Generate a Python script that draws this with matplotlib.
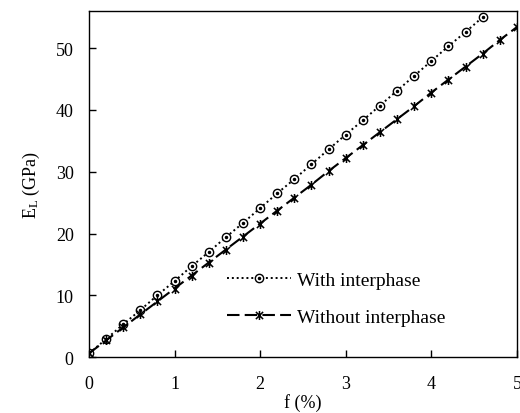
import matplotlib
matplotlib.use("Agg")
import matplotlib.pyplot as plt
from matplotlib.path import Path
from matplotlib.legend_handler import HandlerTuple

plt.rcParams['font.family'] = ['Liberation Serif', 'DejaVu Serif']
plt.rcParams['mathtext.fontset'] = 'custom'
plt.rcParams['mathtext.rm'] = 'Liberation Serif'
plt.rcParams['mathtext.it'] = 'Liberation Serif:italic'

# volume fraction (%) and longitudinal modulus (GPa)
f_with = [0.0, 0.2, 0.4, 0.6, 0.8, 1.0, 1.2, 1.4, 1.6, 1.8, 2.0, 2.2,
          2.4, 2.6, 2.8, 3.0, 3.2, 3.4, 3.6, 3.8, 4.0, 4.2, 4.4, 4.6]
E_with = [0.6, 2.9, 5.3, 7.6, 10.0, 12.3, 14.7, 17.0, 19.4, 21.7, 24.1, 26.5,
          28.8, 31.2, 33.6, 36.0, 38.3, 40.7, 43.1, 45.5, 47.9, 50.3, 52.6, 55.0]

f_without = [0.0, 0.2, 0.4, 0.6, 0.8, 1.0, 1.2, 1.4, 1.6, 1.8, 2.0, 2.2, 2.4,
             2.6, 2.8, 3.0, 3.2, 3.4, 3.6, 3.8, 4.0, 4.2, 4.4, 4.6, 4.8, 5.0]
E_without = [0.6, 2.7, 4.8, 6.9, 9.0, 11.1, 13.2, 15.3, 17.4, 19.5, 21.6, 23.7, 25.8,
             27.9, 30.1, 32.2, 34.3, 36.4, 38.5, 40.6, 42.8, 44.9, 47.0, 49.1, 51.3, 53.4]

x_ticks = [0, 1, 2, 3, 4, 5]
y_ticks = [0, 10, 20, 30, 40, 50]

# asterisk marker: vertical bar plus an X
star = Path([(0, -1), (0, 1), (-0.8, -0.8), (0.8, 0.8), (-0.8, 0.8), (0.8, -0.8)],
            [Path.MOVETO, Path.LINETO, Path.MOVETO, Path.LINETO, Path.MOVETO, Path.LINETO])

fig = plt.figure(figsize=(5.2, 4.14), dpi=100)
ax = fig.add_axes([0.171, 0.135, 0.823, 0.836])

circ, = ax.plot(f_with, E_with, color='black', linestyle=(0, (1, 1.5)), linewidth=1.4,
                marker='o', markersize=6, markerfacecolor='white',
                markeredgecolor='black', markeredgewidth=1.0, zorder=3)
dots, = ax.plot(f_with, E_with, linestyle='none', marker='o', markersize=1.5,
                color='black', zorder=4)
ast, = ax.plot(f_without, E_without, color='black', linestyle=(0, (6, 2.5)), linewidth=1.5,
               marker=star, markersize=6.5, markeredgewidth=1.1, zorder=3)

ax.set_xlim(0, 5)
ax.set_ylim(0, 56)
ax.set_xticks(x_ticks)
ax.set_yticks(y_ticks)
ax.tick_params(direction='in', length=5, width=1, labelsize=13)
ax.tick_params(axis='y', pad=11)
ax.tick_params(axis='x', pad=13)
for s in ax.spines.values():
    s.set_linewidth(1.0)

ax.set_xlabel('f (%)', fontsize=13, labelpad=1)
ax.set_ylabel(r'E$_\mathrm{L}$ (GPa)', fontsize=13, labelpad=10)

ax.legend([(circ, dots), ast], ['With interphase', 'Without interphase'],
          handler_map={tuple: HandlerTuple(ndivide=1, pad=0)},
          loc='center left', bbox_to_anchor=(0.323, 0.17), frameon=False,
          borderpad=0, borderaxespad=0,
          fontsize=14, handlelength=3.3, handletextpad=0.3, labelspacing=1.0)

fig.savefig('out.png', dpi=100)
